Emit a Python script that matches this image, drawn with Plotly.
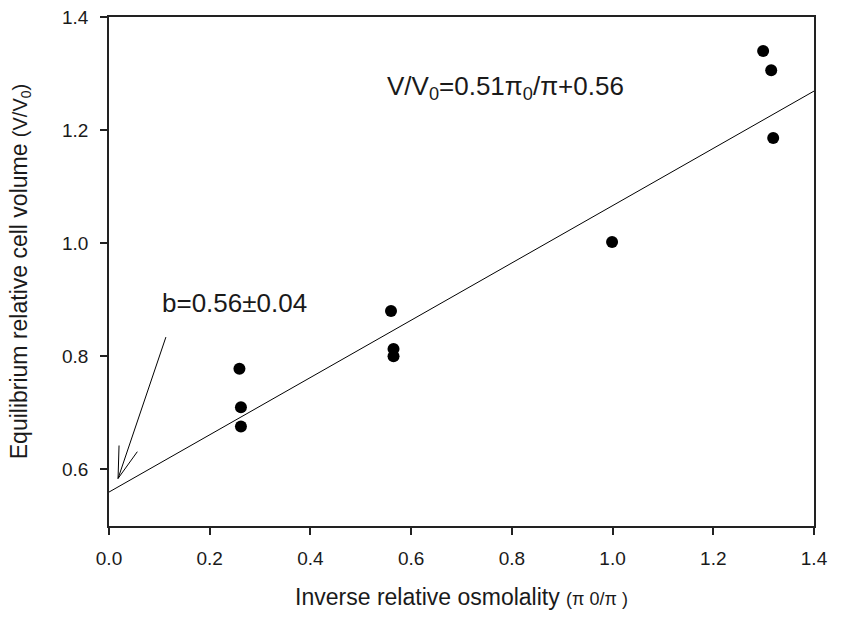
import math
import plotly.graph_objects as go

# ---- data ----
x_obs = [0.259, 0.262, 0.262, 0.560, 0.565, 0.565, 0.999, 1.299, 1.315, 1.319]
y_obs = [0.778, 0.710, 0.676, 0.880, 0.813, 0.800, 1.002, 1.340, 1.306, 1.186]

fit_x = [0.0, 1.4]
fit_y = [0.560, 1.269]

x_ticks = [0.0, 0.2, 0.4, 0.6, 0.8, 1.0, 1.2, 1.4]
x_tick_text = ["0.0", "0.2", "0.4", "0.6", "0.8", "1.0", "1.2", "1.4"]
y_ticks = [0.6, 0.8, 1.0, 1.2, 1.4]
y_tick_text = ["0.6", "0.8", "1.0", "1.2", "1.4"]

x_range = [0.0, 1.4]
y_range = [0.5, 1.4]

arrow_tip = (0.018, 0.584)
arrow_tail = (0.113, 0.834)

# ---- layout geometry ----
W, H = 841, 635
ML, MR, MT, MB = 109, 27, 17, 109
plot_w = W - ML - MR
plot_h = H - MT - MB
ppx = plot_w / (x_range[1] - x_range[0])
ppy = plot_h / (y_range[1] - y_range[0])

FONT = "Liberation Sans, Arial, sans-serif"
TXT = "#1a1a1a"

fig = go.Figure()

fig.add_trace(go.Scatter(
    x=fit_x, y=fit_y, mode="lines",
    line=dict(color="black", width=1), showlegend=False, hoverinfo="skip"))

fig.add_trace(go.Scatter(
    x=x_obs, y=y_obs, mode="markers",
    marker=dict(color="black", size=12, line=dict(width=0)),
    showlegend=False))

# arrow (shaft + open head) as shapes
shapes = []
shapes.append(dict(type="line", xref="x", yref="y",
                   x0=arrow_tail[0], y0=arrow_tail[1], x1=arrow_tip[0], y1=arrow_tip[1],
                   line=dict(color="black", width=1)))
dxp = (arrow_tail[0] - arrow_tip[0]) * ppx
dyp = (arrow_tail[1] - arrow_tip[1]) * ppy
ang = math.atan2(dyp, dxp)
head_len = 33
half = math.radians(17)
for s in (-1, 1):
    a = ang + s * half
    ex = arrow_tip[0] + head_len * math.cos(a) / ppx
    ey = arrow_tip[1] + head_len * math.sin(a) / ppy
    shapes.append(dict(type="line", xref="x", yref="y",
                       x0=arrow_tip[0], y0=arrow_tip[1], x1=ex, y1=ey,
                       line=dict(color="black", width=1)))

annotations = [
    dict(x=0.788, y=1.276, xref="x", yref="y", showarrow=False,
         text="V/V<sub>0</sub>=0.51π<sub>0</sub>/π+0.56",
         font=dict(family=FONT, size=26, color=TXT)),
    dict(x=0.25, y=0.895, xref="x", yref="y", showarrow=False,
         text="b=0.56±0.04",
         font=dict(family=FONT, size=26, color=TXT)),
]

axis_common = dict(
    showgrid=False, zeroline=False, showline=True, linecolor="#222",
    linewidth=1.5, mirror=True, ticks="outside", ticklen=7, tickwidth=1.5,
    tickcolor="#222", tickfont=dict(family=FONT, size=19, color=TXT),
)

fig.update_layout(
    width=W, height=H,
    margin=dict(l=ML, r=MR, t=MT, b=MB, autoexpand=False),
    paper_bgcolor="white", plot_bgcolor="white",
    xaxis=dict(range=x_range, tickvals=x_ticks, ticktext=x_tick_text,
               ticklabelstandoff=7,
               title=dict(text="Inverse relative osmolality <span style='font-size:18px'>(π 0/π )</span>",
                          font=dict(family=FONT, size=23, color=TXT), standoff=21),
               **axis_common),
    yaxis=dict(range=y_range, tickvals=y_ticks, ticktext=y_tick_text,
               ticklabelstandoff=8,
               title=dict(text="Equilibrium relative cell volume <span style='font-size:20px'>(V/V<sub>0</sub>)</span>",
                          font=dict(family=FONT, size=23, color=TXT), standoff=28),
               **axis_common),
    shapes=shapes,
    annotations=annotations,
    font=dict(family=FONT, color=TXT),
)

fig.write_html("out.html")
